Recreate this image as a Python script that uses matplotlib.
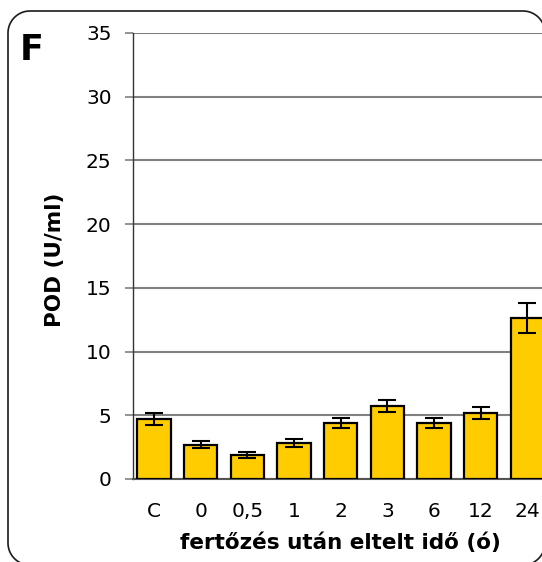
import matplotlib
matplotlib.use("Agg")
import matplotlib.pyplot as plt
from matplotlib.lines import Line2D
import numpy as np

plt.rcParams['font.family'] = ['DejaVu Sans']

# POD activity after infection
categories = ["C", "0", "0,5", "1", "2", "3", "6", "12", "24"]
pod_mean = [4.7, 2.7, 1.9, 2.8, 4.4, 5.75, 4.4, 5.15, 12.65]
pod_err = [0.45, 0.25, 0.22, 0.3, 0.4, 0.48, 0.4, 0.48, 1.17]
y_ticks = [0, 5, 10, 15, 20, 25, 30, 35]

W, H = 542, 562
fig = plt.figure(figsize=(W / 100, H / 100), dpi=100)


def rounded_rect(x0, y0, x1, y1, r, n=24):
    """Outline of a rounded rectangle as a polyline (pixel coords, y up)."""
    pts = []
    corners = [(x1 - r, y1 - r, 0), (x0 + r, y1 - r, 90),
               (x0 + r, y0 + r, 180), (x1 - r, y0 + r, 270)]
    for cx, cy, a0 in corners:
        t = np.radians(np.linspace(a0, a0 + 90, n))
        pts.extend(zip(cx + r * np.cos(t), cy + r * np.sin(t)))
    pts.append(pts[0])
    xs, ys = zip(*pts)
    return np.array(xs), np.array(ys)


# panel frame (runs off the right and bottom edges)
fx, fy = rounded_rect(8, H - 565, 545, H - 11, 22)
fig.add_artist(Line2D(fx / W, fy / H, transform=fig.transFigure,
                      color="#1a1a1a", linewidth=1.2, zorder=0))

ax_left, ax_right, ax_top, ax_bottom = 133, 553, 33, 479
ax = fig.add_axes([ax_left / W, 1 - ax_bottom / H,
                   (ax_right - ax_left) / W, (ax_bottom - ax_top) / H])
ax.set_facecolor("none")

x = np.arange(len(categories))
ax.bar(x, pod_mean, width=0.71, color="#FFCC00", edgecolor="black",
       linewidth=1.6, zorder=3)
ax.errorbar(x, pod_mean, yerr=pod_err, fmt="none", ecolor="black",
            elinewidth=1.5, capsize=6.3, capthick=1.5, zorder=4)

ax.set_xlim(-0.45, 8.55)
ax.set_ylim(0, 35)
ax.set_yticks(y_ticks)
ax.set_yticklabels([str(t) for t in y_ticks], fontsize=14.5)
ax.set_xticks(x)
ax.set_xticklabels(categories, fontsize=14.5)
for lbl in ax.get_xticklabels():
    lbl.set_va("baseline")
ax.yaxis.grid(True, color="#808080", linewidth=1.5, zorder=0)
ax.set_axisbelow(True)

ax.tick_params(axis="y", length=6, width=1.2, color="#808080", pad=9.4)
ax.tick_params(axis="x", length=0, pad=27.4)

for side in ("top", "right"):
    ax.spines[side].set_visible(False)
ax.spines["left"].set_color("#333333")
ax.spines["left"].set_linewidth(1.0)
ax.spines["bottom"].set_color("#555555")
ax.spines["bottom"].set_linewidth(1.5)

fig.text(55 / W, 1 - 260 / H, "POD (U/ml)", rotation=90, ha="center",
         va="center", fontsize=15.5, fontweight="bold")
fig.text(340 / W, 1 - 543 / H, "fertőzés után eltelt idő (ó)", ha="center",
         va="center", fontsize=15.5, fontweight="bold")
fig.text(20 / W, 1 - 50 / H, "F", ha="left", va="center", fontsize=25,
         fontweight="bold")

fig.savefig("out.png", dpi=100)
